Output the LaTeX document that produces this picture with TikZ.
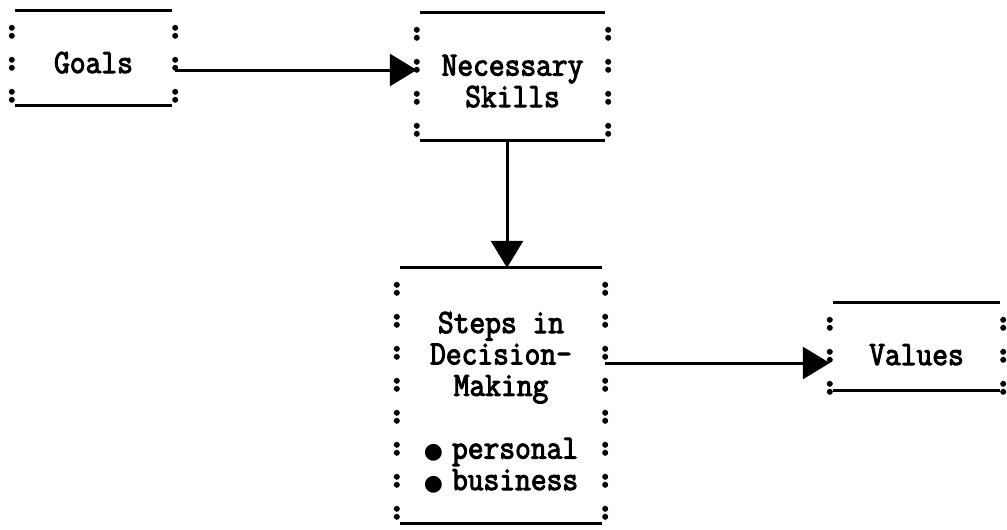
\documentclass[tikz,border=0pt]{standalone}
\usepackage{fontspec}
\setmonofont{Latin Modern Mono}[FakeStretch=0.9,FakeBold=3]
\newfontfamily\symfont{DejaVu Sans}
\usetikzlibrary{arrows.meta}
\newcommand{\bul}{{\symfont\fontsize{22}{22}\selectfont ●}\hspace{9pt}}
\newcommand{\textskills}{Necessary\\Skills}
\newcommand{\textsteps}{Steps in\\Decision-\\Making\\[31.4pt]\bul personal\\\bul business}

\begin{document}
\begin{tikzpicture}[
    x=1pt,y=-1pt,
    box/.style={inner sep=0pt,align=center,font=\ttfamily\fontsize{34}{31.4}\selectfont},
    rule/.style={line width=3pt,shorten <=3pt,shorten >=3pt},
    colons/.style={line width=6pt,line cap=round,dash pattern=on 0pt off 8pt on 0pt off 24pt},
    link/.style={line width=3pt,-{Triangle[length=27pt,width=32pt]}}
]
\useasboundingbox (0,0) rectangle (1007,530);

\node[box,minimum width=163pt,text height=62pt,text depth=32pt] (goals) at (93.5,58) {Goals};
\node[box,minimum width=191pt,text height=94pt,text depth=33pt] (skills) at (512.5,76.5) {\textskills};
\node[box,minimum width=208pt,text height=222pt,text depth=33pt] (steps) at (501,395.5) {\textsteps};
\node[box,minimum width=173pt,text height=62pt,text depth=25pt] (values) at (916.5,346.5) {Values};

% typewriter frames
\foreach \b in {goals,skills,steps,values}{
  \draw[rule] (\b.north west) -- (\b.north east);
  \draw[rule] (\b.south west) -- (\b.south east);
  \draw[colons] ([yshift=-17pt]\b.north west) -- ([yshift=-3pt]\b.south west);
  \draw[colons] ([yshift=-17pt]\b.north east) -- ([yshift=-3pt]\b.south east);
}

\draw[link] ([yshift=-12pt]goals.east) -- ([yshift=-12pt]goals.east -| skills.west);
\draw[link] ([xshift=-5.5pt]skills.south) -- ([xshift=-5.5pt]skills.south |- steps.north);
\draw[link] ([yshift=32.5pt]steps.east) -- ([yshift=32.5pt]steps.east -| values.west);
\end{tikzpicture}
\end{document}
